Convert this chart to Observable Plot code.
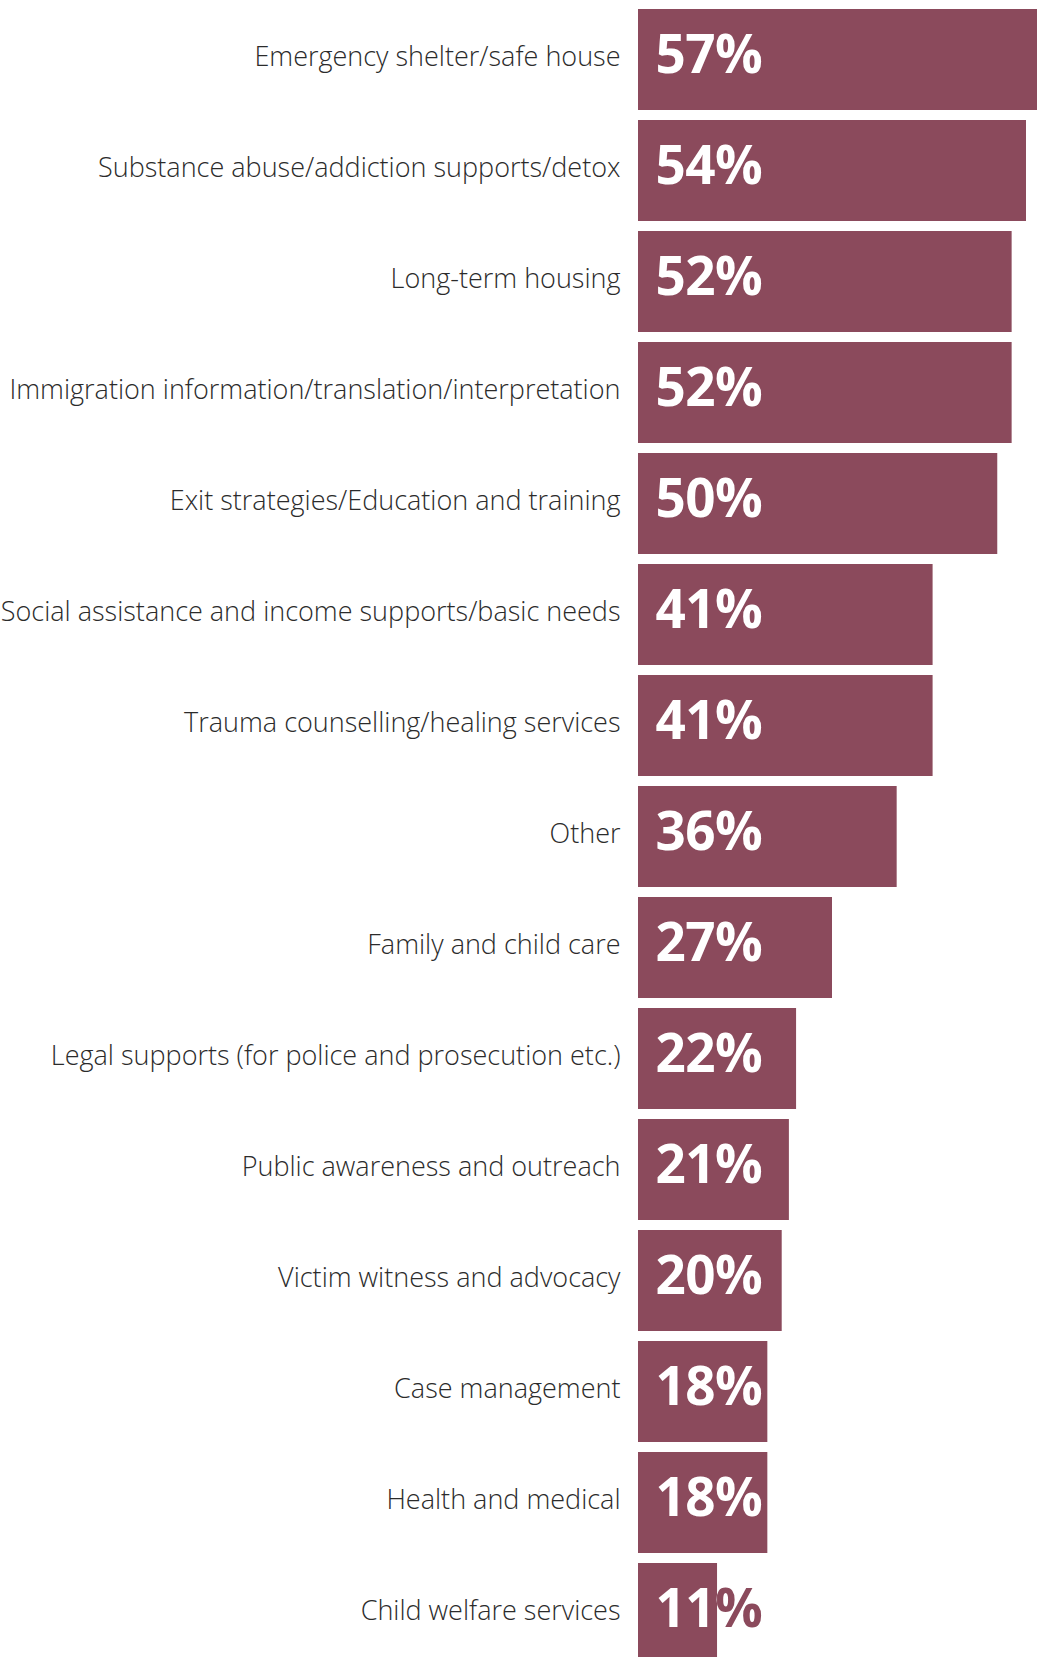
<!DOCTYPE html>
<html>
<head>
<meta charset="utf-8">
<script src="https://cdn.jsdelivr.net/npm/d3@7"></script>
<script src="https://cdn.jsdelivr.net/npm/@observablehq/plot@0.6"></script>
<style>
  html, body { margin: 0; padding: 0; background: #ffffff; overflow: hidden; }
  #chart { width: 1037px; overflow: hidden; }
  #chart svg { display: block; overflow: hidden; }
</style>
</head>
<body>
<div id="chart"></div>
<script>
const categories = [
  "Emergency shelter/safe house",
  "Substance abuse/addiction supports/detox",
  "Long-term housing",
  "Immigration information/translation/interpretation",
  "Exit strategies/Education and training",
  "Social assistance and income supports/basic needs",
  "Trauma counselling/healing services",
  "Other",
  "Family and child care",
  "Legal supports (for police and prosecution etc.)",
  "Public awareness and outreach",
  "Victim witness and advocacy",
  "Case management",
  "Health and medical",
  "Child welfare services"
];
const values = [57, 54, 52, 52, 50, 41, 41, 36, 27, 22, 21, 20, 18, 18, 11];
const valueLabels = ["57%", "54%", "52%", "52%", "50%", "41%", "41%", "36%", "27%", "22%", "21%", "20%", "18%", "18%", "11%"];

const data = categories.map((c, i) => ({category: c, value: values[i], label: valueLabels[i]}));
const barColor = "#8b4a5c";

const chart = Plot.plot({
  width: 1037,
  height: 1665,
  marginLeft: 638,
  marginRight: 11,
  marginTop: 8,
  marginBottom: 0,
  style: {fontFamily: "'Open Sans', 'DejaVu Sans', sans-serif", background: "#ffffff", overflow: "hidden"},
  x: {domain: [0, 54], axis: null},
  y: {domain: categories, paddingInner: 0.094, paddingOuter: 0, label: null, axis: null},
  marks: [
    Plot.barX(data, {y: "category", x1: 0, x2: "value", fill: barColor}),
    Plot.text(data, {y: "category", x: 0, text: "category", textAnchor: "end", dx: -18, dy: -3, fill: "#2b2b2b", fontSize: 27, fontWeight: 300}),
    Plot.text(data, {y: "category", x: 0, text: "label", textAnchor: "start", dx: 17, dy: -4, fill: barColor, fontSize: 53, fontWeight: 700}),
    Plot.text(data, {y: "category", x: 0, text: "label", textAnchor: "start", dx: 17, dy: -4, fill: "#ffffff", fontSize: 53, fontWeight: 700})
  ]
});

// clip the white value labels to the bars so overflowing text shows in the bar colour
const svg = d3.select(chart);
const defs = svg.insert("defs", ":first-child");
const clip = defs.append("clipPath").attr("id", "bar-clip").attr("clipPathUnits", "userSpaceOnUse");
const barGroup = svg.select("g[aria-label='bar']").node();
const barTransform = barGroup.getAttribute("transform");
svg.selectAll("g[aria-label='bar'] rect").each(function() {
  const r = this.cloneNode(false);
  if (barTransform) r.setAttribute("transform", barTransform);
  clip.node().appendChild(r);
});
const textGroups = svg.selectAll("g[aria-label='text']").nodes();
const whiteGroup = textGroups[textGroups.length - 1];
const wrapper = document.createElementNS("http://www.w3.org/2000/svg", "g");
wrapper.setAttribute("clip-path", "url(#bar-clip)");
whiteGroup.parentNode.insertBefore(wrapper, whiteGroup);
wrapper.appendChild(whiteGroup);
textGroups.slice(1).forEach(g => d3.select(g).selectAll("text").style("letter-spacing", "-0.5px"));

document.getElementById("chart").appendChild(chart);
</script>
</body>
</html>
